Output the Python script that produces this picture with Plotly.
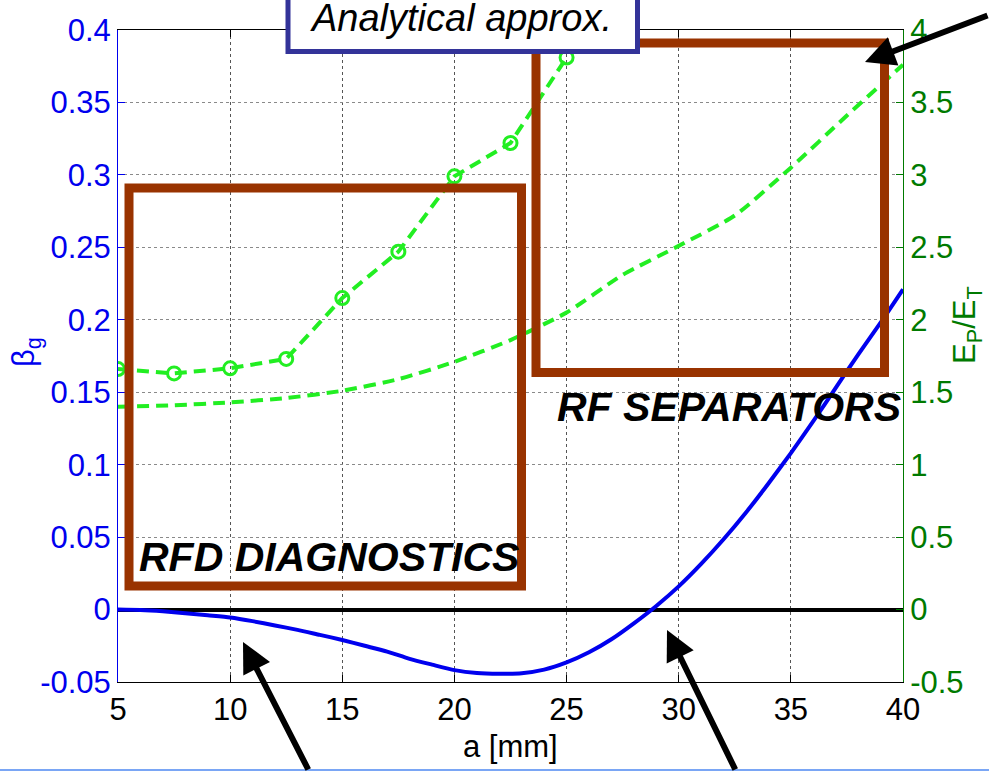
import plotly.graph_objects as go

# ---------------- data ----------------
a_beta = [5, 6, 7, 8, 9, 10, 11, 12, 13, 14, 15, 16, 17, 18, 19, 20, 21, 22, 23, 24,
          25, 26, 27, 28, 29, 30, 31, 32, 33, 34, 35, 36, 37, 38, 39, 40]
beta_g = [0.0, -0.0003, -0.0012, -0.0025, -0.004, -0.0055, -0.008, -0.011, -0.014, -0.0175,
          -0.021, -0.025, -0.029, -0.034, -0.038, -0.0418, -0.0438, -0.0443, -0.0440, -0.0415,
          -0.0365, -0.0295, -0.0205, -0.0095, 0.0025, 0.016, 0.0315, 0.0485, 0.067, 0.087,
          0.108, 0.130, 0.153, 0.176, 0.198, 0.221]

a_approx = [5, 7.5, 10, 12.5, 15, 17.5, 20, 22.5, 25, 27.5, 30, 32.5, 35, 37.5, 40]
ep_et_approx = [1.40, 1.41, 1.43, 1.46, 1.51, 1.59, 1.71, 1.86, 2.05, 2.31, 2.51, 2.72, 3.05, 3.41, 3.76]

a_sim = [5, 7.5, 10, 12.5, 15, 17.5, 20, 22.5, 25]
ep_et_sim = [1.66, 1.63, 1.665, 1.73, 2.15, 2.47, 2.99, 3.22, 3.81]

x_ticks = [5, 10, 15, 20, 25, 30, 35, 40]
y_ticks = [-0.05, 0, 0.05, 0.1, 0.15, 0.2, 0.25, 0.3, 0.35, 0.4]
y_ticktext = ["-0.05", "0", "0.05", "0.1", "0.15", "0.2", "0.25", "0.3", "0.35", "0.4"]
y2_ticks = [-0.5, 0, 0.5, 1, 1.5, 2, 2.5, 3, 3.5, 4]
y2_ticktext = ["-0.5", "0", "0.5", "1", "1.5", "2", "2.5", "3", "3.5", "4"]

# ---------------- layout helpers ----------------
W, H = 989, 771
L, R, T, B = 118, 86, 30, 89
PW, PH = W - L - R, H - T - B

def px(x):
    return (x - L) / PW

def py(y):
    return (H - B - y) / PH

FONT = "Liberation Sans, Arial, sans-serif"
BLUE = "#0000ee"
GREEN_LINE = "#22ee22"
GREEN_TXT = "#007a00"
BROWN = "#993300"
TICK_SIZE = 31

fig = go.Figure()

fig.add_trace(go.Scatter(x=a_approx, y=ep_et_approx, yaxis="y2", mode="lines",
                         line=dict(color=GREEN_LINE, width=4, dash="12px,7px", shape="spline", smoothing=0.6),
                         showlegend=False, hoverinfo="skip"))
fig.add_trace(go.Scatter(x=a_sim, y=ep_et_sim, yaxis="y2", mode="lines+markers",
                         line=dict(color=GREEN_LINE, width=4, dash="12px,7px"),
                         marker=dict(symbol="circle-open", size=13, color=GREEN_LINE, line=dict(width=3, color=GREEN_LINE)),
                         showlegend=False, hoverinfo="skip"))
fig.add_trace(go.Scatter(x=a_beta, y=beta_g, mode="lines",
                         line=dict(color=BLUE, width=4, shape="spline", smoothing=0.6),
                         showlegend=False, hoverinfo="skip"))

shapes = []
# brown boxes
shapes.append(dict(type="rect", xref="paper", yref="paper",
                   x0=px(129), x1=px(521.5), y0=py(586), y1=py(188),
                   line=dict(color=BROWN, width=9), fillcolor="rgba(0,0,0,0)", layer="above"))
shapes.append(dict(type="rect", xref="paper", yref="paper",
                   x0=px(536), x1=px(884.5), y0=py(372.5), y1=py(43),
                   line=dict(color=BROWN, width=9), fillcolor="rgba(0,0,0,0)", layer="above"))
# analytical approx box
shapes.append(dict(type="rect", xref="paper", yref="paper",
                   x0=px(288), x1=px(637.5), y0=py(51.5), y1=py(-20),
                   line=dict(color="#333399", width=5), fillcolor="white", layer="above"))
# thin line along the bottom of the picture
shapes.append(dict(type="line", xref="paper", yref="paper",
                   x0=px(0), x1=px(989), y0=py(770), y1=py(770),
                   line=dict(color="#7aa6f5", width=2), layer="above"))

annotations = []
annotations.append(dict(xref="paper", yref="paper", x=px(461), y=py(18), text="<i>Analytical approx.</i>",
                        showarrow=False, font=dict(family=FONT, size=38, color="black"),
                        xanchor="center", yanchor="middle"))
annotations.append(dict(xref="paper", yref="paper", x=px(329), y=py(557), text="<b><i>RFD DIAGNOSTICS</i></b>",
                        showarrow=False, font=dict(family=FONT, size=41, color="black"),
                        xanchor="center", yanchor="middle"))
annotations.append(dict(xref="paper", yref="paper", x=px(729), y=py(407), text="<b><i>RF SEPARATORS</i></b>",
                        showarrow=False, font=dict(family=FONT, size=41, color="black"),
                        xanchor="center", yanchor="middle"))
annotations.append(dict(xref="paper", yref="paper", x=px(26), y=py(352), text="β<sub>g</sub>",
                        showarrow=False, textangle=-90, font=dict(family=FONT, size=31, color=BLUE),
                        xanchor="center", yanchor="middle"))
annotations.append(dict(xref="paper", yref="paper", x=px(967), y=py(325), text="E<sub>P</sub>/E<sub>T</sub>",
                        showarrow=False, textangle=-90, font=dict(family=FONT, size=31, color=GREEN_TXT),
                        xanchor="center", yanchor="middle"))
annotations.append(dict(xref="paper", yref="paper", x=px(510), y=py(746), text="a [mm]",
                        showarrow=False, font=dict(family=FONT, size=31, color="black"),
                        xanchor="center", yanchor="middle"))

# arrows (head, tail) in pixels
arrows = [((865, 62), (995, 15)), ((243, 642), (309, 775)), ((667, 630), (736, 775))]
for (hx, hy), (tx, ty) in arrows:
    annotations.append(dict(xref="paper", yref="paper", x=px(hx), y=py(hy), text="",
                            showarrow=True, arrowhead=2, arrowsize=1.0, arrowwidth=6,
                            arrowcolor="black", ax=tx - hx, ay=ty - hy, standoff=0))

fig.update_layout(
    width=W, height=H,
    margin=dict(l=L, r=R, t=T, b=B, pad=0),
    paper_bgcolor="white", plot_bgcolor="white",
    font=dict(family=FONT, size=TICK_SIZE, color="black"),
    shapes=shapes, annotations=annotations,
    xaxis=dict(range=[5, 40], tickvals=x_ticks, ticktext=[str(v) for v in x_ticks],
               ticks="inside", ticklen=7, tickcolor="black", tickwidth=1,
               showline=True, linecolor="black", linewidth=1, mirror="ticks",
               showgrid=True, gridcolor="#555555", griddash="dot", gridwidth=1,
               zeroline=False, tickfont=dict(size=TICK_SIZE, color="black")),
    yaxis=dict(range=[-0.05, 0.4], tickvals=y_ticks, ticktext=y_ticktext,
               ticks="inside", ticklen=7, tickcolor=BLUE, tickwidth=1,
               showline=True, linecolor=BLUE, linewidth=1,
               showgrid=True, gridcolor="#8a8a8a", griddash="dot", gridwidth=1,
               zeroline=True, zerolinecolor="black", zerolinewidth=4,
               tickfont=dict(size=TICK_SIZE, color=BLUE)),
    yaxis2=dict(range=[-0.5, 4], tickvals=y2_ticks, ticktext=y2_ticktext, overlaying="y", side="right",
                ticks="inside", ticklen=7, tickcolor=GREEN_TXT, tickwidth=1,
                showline=True, linecolor=GREEN_TXT, linewidth=1,
                showgrid=False, zeroline=False, tickfont=dict(size=TICK_SIZE, color=GREEN_TXT)),
)

fig.write_html("out.html")
